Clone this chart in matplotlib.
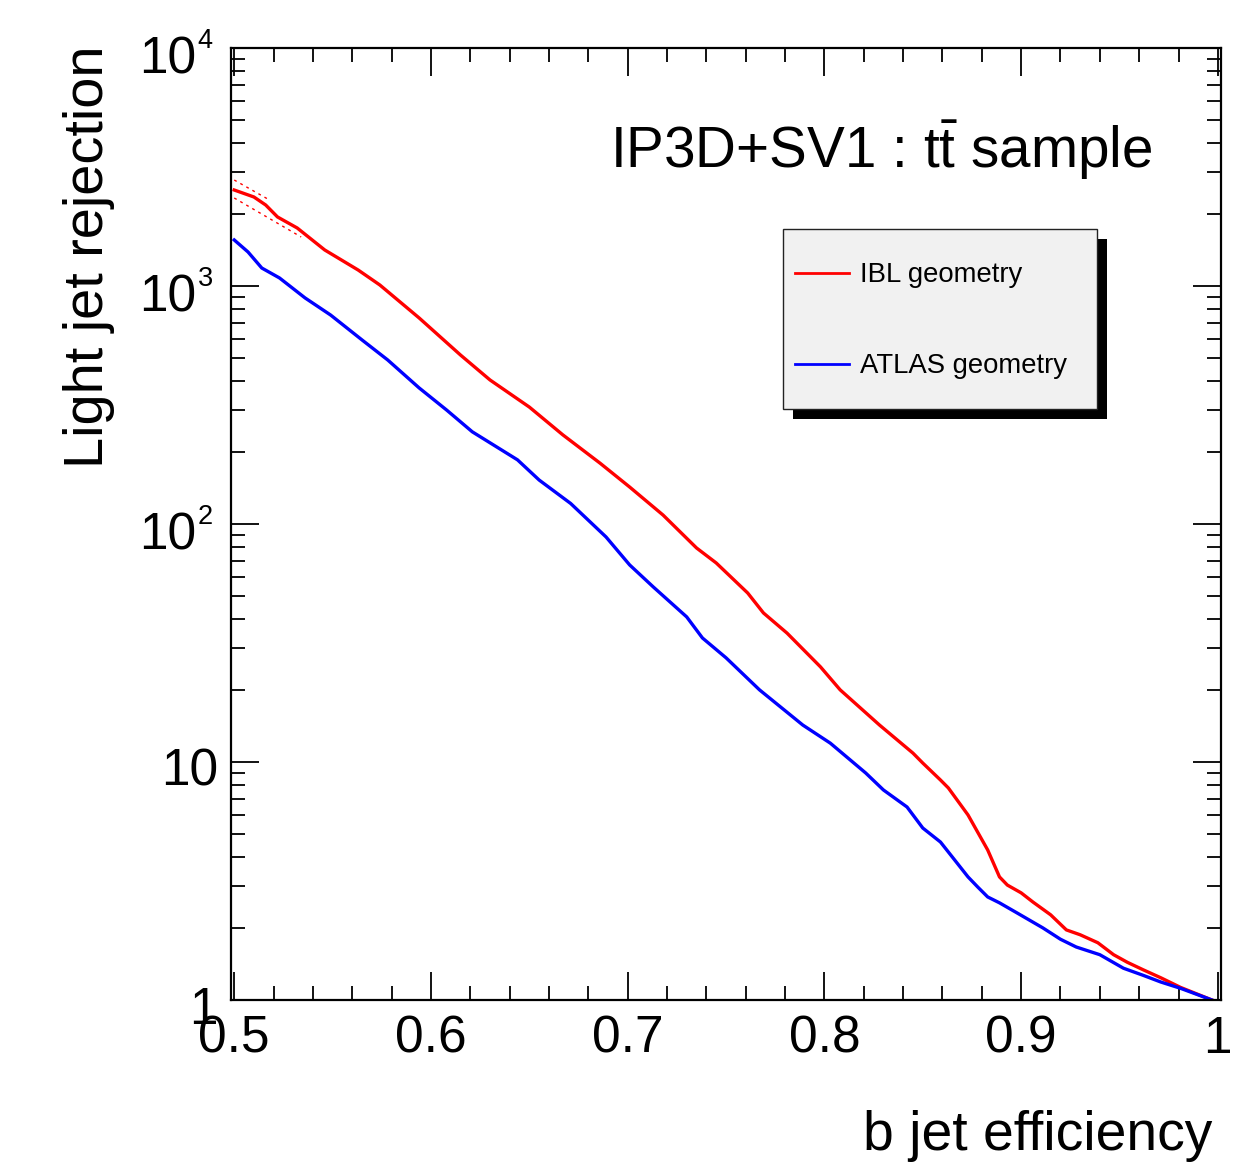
import matplotlib
matplotlib.use('Agg')
import matplotlib.pyplot as plt
import matplotlib.transforms as mtrans
from matplotlib.patches import Rectangle
from matplotlib.lines import Line2D
from matplotlib.ticker import FixedLocator, MultipleLocator, LogLocator, NullFormatter

plt.rcParams['font.family'] = ['Liberation Sans', 'DejaVu Sans']
plt.rcParams['mathtext.fontset'] = 'custom'
plt.rcParams['mathtext.rm'] = 'Liberation Sans'
plt.rcParams['mathtext.it'] = 'Liberation Sans:italic'
plt.rcParams['mathtext.bf'] = 'Liberation Sans:bold'

# ---------------- data ----------------
ibl_eff = [0.500, 0.510, 0.516, 0.522, 0.532, 0.546, 0.563, 0.574, 0.594, 0.615,
           0.630, 0.650, 0.667, 0.686, 0.701, 0.718, 0.735, 0.745, 0.761, 0.769,
           0.781, 0.798, 0.808, 0.828, 0.845, 0.850, 0.859, 0.863, 0.873, 0.883,
           0.889, 0.893, 0.900, 0.906, 0.915, 0.923, 0.930, 0.939, 0.947, 0.954,
           0.962, 0.971, 0.981, 0.997]
ibl_rej = [2531, 2366, 2189, 1950, 1753, 1417, 1167, 1010, 734, 513,
           403, 310, 237, 180, 143, 109, 79.3, 68.6, 51.3, 42.3,
           34.8, 25.1, 20.1, 14.3, 10.9, 9.9, 8.40, 7.78, 5.99, 4.27,
           3.29, 3.04, 2.82, 2.58, 2.28, 1.97, 1.88, 1.74, 1.55, 1.44,
           1.34, 1.24, 1.13, 1.00]

atlas_eff = [0.500, 0.507, 0.514, 0.523, 0.536, 0.549, 0.565, 0.578, 0.594, 0.608,
             0.621, 0.644, 0.655, 0.671, 0.689, 0.701, 0.713, 0.730, 0.738, 0.750,
             0.767, 0.789, 0.803, 0.821, 0.830, 0.842, 0.850, 0.859, 0.865, 0.873,
             0.878, 0.883, 0.889, 0.898, 0.911, 0.920, 0.928, 0.940, 0.952, 0.962,
             0.971, 0.981, 0.997]
atlas_rej = [1561, 1390, 1190, 1081, 891, 755, 593, 489, 373, 301,
             244, 186, 153, 122, 88.2, 67.3, 54.4, 40.7, 33.2, 27.4,
             20.1, 14.3, 12.0, 8.99, 7.63, 6.47, 5.28, 4.61, 3.99, 3.29,
             2.98, 2.71, 2.56, 2.32, 2.01, 1.80, 1.67, 1.55, 1.36, 1.27,
             1.19, 1.12, 1.00]

# IBL uncertainty band (dotted) at low efficiency
ibl_err_hi_eff = [0.500, 0.517]
ibl_err_hi_rej = [2788, 2321]
ibl_err_lo_eff = [0.500, 0.534]
ibl_err_lo_rej = [2343, 1607]

series_labels = ['IBL geometry', 'ATLAS geometry']
series_colors = ['#ff0000', '#0000ff']

x_ticks = [0.5, 0.6, 0.7, 0.8, 0.9, 1.0]
x_ticklabels = ['0.5', '0.6', '0.7', '0.8', '0.9', '1']
y_ticks = [1, 10, 100, 1000, 10000]
y_base = ['1', '10', '10', '10', '10']
y_exp = [None, None, '2', '3', '4']

title_text = r'IP3D+SV1 : $\mathrm{t\bar{t}}$ sample'
x_title = 'b jet efficiency'
y_title = 'Light jet rejection'

# ---------------- figure ----------------
W, H = 1255, 1170
fig = plt.figure(figsize=(W / 100, H / 100), dpi=100)
L, R, T, B = 230.7, 1221, 48, 1000
ax = fig.add_axes([L / W, 1 - B / H, (R - L) / W, (B - T) / H])

ax.plot(ibl_eff, ibl_rej, color=series_colors[0], lw=2.4, solid_joinstyle='round')
ax.plot(atlas_eff, atlas_rej, color=series_colors[1], lw=2.4, solid_joinstyle='round')
ax.plot(ibl_err_hi_eff, ibl_err_hi_rej, color=series_colors[0], lw=1.0, ls=(0, (2, 3)))
ax.plot(ibl_err_lo_eff, ibl_err_lo_rej, color=series_colors[0], lw=1.0, ls=(0, (2, 3)))

ax.set_yscale('log')
ax.set_xlim(0.4982, 1.0016)
ax.set_ylim(1, 10000)

for s in ax.spines.values():
    s.set_linewidth(1.6)

ax.xaxis.set_major_locator(FixedLocator(x_ticks))
ax.set_xticklabels(x_ticklabels)
ax.xaxis.set_minor_locator(MultipleLocator(0.02))
ax.yaxis.set_major_locator(FixedLocator(y_ticks))
ax.yaxis.set_minor_locator(LogLocator(base=10, subs=[2, 3, 4, 5, 6, 7, 8, 9]))
ax.yaxis.set_major_formatter(NullFormatter())
ax.yaxis.set_minor_formatter(NullFormatter())

ax.tick_params(which='both', direction='in', top=True, right=True, width=1.3)
ax.tick_params(which='major', length=20)
ax.tick_params(which='minor', length=10)
ax.tick_params(axis='x', which='major', labelsize=37, pad=10.5)

# y tick labels (ROOT style 10^n)
ytr = ax.get_yaxis_transform()
def off(dx, dy):
    return ytr + mtrans.ScaledTranslation(dx / 100, dy / 100, fig.dpi_scale_trans)

for val, base, ex in zip(y_ticks, y_base, y_exp):
    if ex is None:
        ax.text(0, val, base, transform=off(-12.7, -24), ha='right', va='baseline',
                fontsize=37, clip_on=False)
    else:
        ax.text(0, val, base, transform=off(-34.7, -26), ha='right', va='baseline',
                fontsize=37, clip_on=False)
        ax.text(0, val, ex, transform=off(-33.0, 0), ha='left', va='baseline',
                fontsize=19.5, clip_on=False)

# axis titles
fig.text(1212 / W, 1 - 1150 / H, x_title, fontsize=39.8, ha='right', va='baseline')
fig.text(103 / W, 1 - 46 / H, y_title, fontsize=40.2, rotation=90, rotation_mode='anchor',
         ha='right', va='baseline')

# plot label
fig.text(610 / W, 1 - 168 / H, title_text, fontsize=40.8, ha='left', va='baseline')

# legend box (ROOT style with shadow)
bx0, by0, bx1, by1 = 783, 229, 1097, 409
sh = 10
fig.patches.append(Rectangle(((bx0 + sh) / W, 1 - (by1 + sh) / H), (bx1 - bx0) / W, (by1 - by0) / H,
                             transform=fig.transFigure, facecolor='black', edgecolor='black', lw=0))
fig.patches.append(Rectangle((bx0 / W, 1 - by1 / H), (bx1 - bx0) / W, (by1 - by0) / H,
                             transform=fig.transFigure, facecolor='#f1f1f1', edgecolor='#222222', lw=1.0))
entry_y = [273, 364]
for lab, col, ey in zip(series_labels, series_colors, entry_y):
    fig.lines.append(Line2D([795 / W, 849 / W], [1 - ey / H, 1 - ey / H], transform=fig.transFigure,
                            color=col, lw=2.0))
    fig.text(860 / W, 1 - (ey + 9) / H, lab, fontsize=19.8, ha='left', va='baseline')

fig.savefig('out.png', dpi=100)
